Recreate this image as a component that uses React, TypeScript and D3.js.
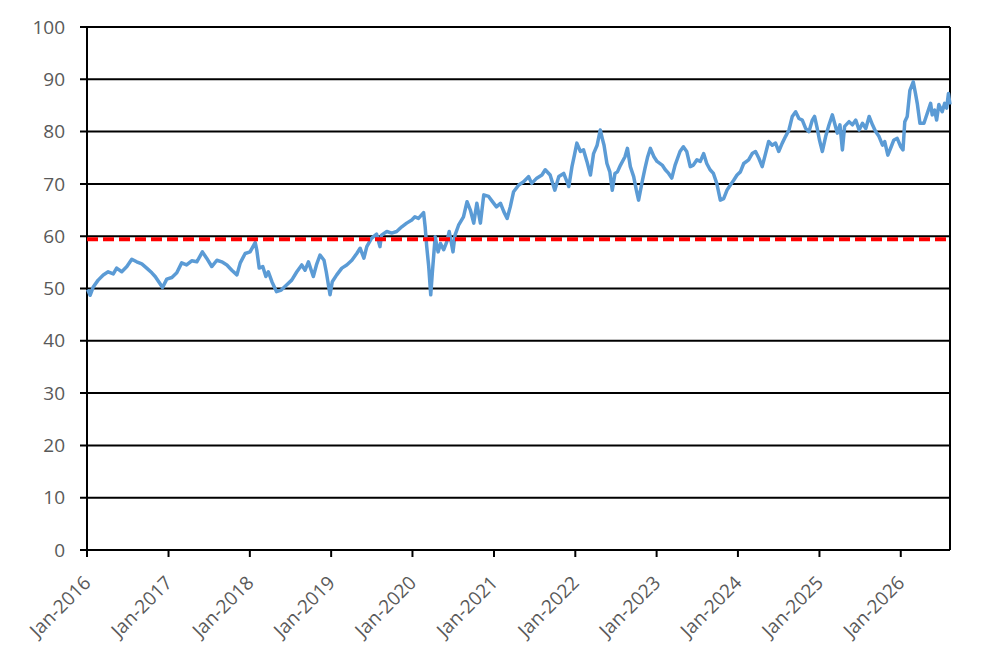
import React, { useEffect, useRef } from 'react';
import * as d3 from 'd3';

// Series (roughly every two to three weeks)
const dates: string[] = [
  '2016-01-04', '2016-01-15', '2016-01-29', '2016-02-20', '2016-03-14', '2016-04-05', '2016-04-28', '2016-05-13',
  '2016-06-05', '2016-06-28', '2016-07-20', '2016-08-11', '2016-09-03', '2016-09-25', '2016-10-18', '2016-11-02',
  '2016-11-24', '2016-12-05', '2016-12-24', '2017-01-16', '2017-02-07', '2017-03-01', '2017-03-23', '2017-04-15',
  '2017-05-08', '2017-06-02', '2017-06-21', '2017-07-14', '2017-08-06', '2017-08-28', '2017-09-20', '2017-10-12',
  '2017-11-04', '2017-11-19', '2017-12-11', '2018-01-02', '2018-01-25', '2018-02-01', '2018-02-12', '2018-02-28',
  '2018-03-14', '2018-03-25', '2018-04-10', '2018-05-01', '2018-05-22', '2018-06-16', '2018-07-08', '2018-07-31',
  '2018-08-22', '2018-09-06', '2018-09-21', '2018-10-13', '2018-10-27', '2018-11-12', '2018-11-30', '2018-12-10',
  '2018-12-27', '2019-01-06', '2019-01-26', '2019-02-18', '2019-03-12', '2019-04-04', '2019-04-26', '2019-05-11',
  '2019-05-28', '2019-06-10', '2019-07-01', '2019-07-24', '2019-08-08', '2019-08-15', '2019-09-08', '2019-09-30',
  '2019-10-22', '2019-11-14', '2019-12-06', '2019-12-29', '2020-01-12', '2020-01-28', '2020-02-20', '2020-02-27',
  '2020-03-05', '2020-03-14', '2020-03-23', '2020-03-30', '2020-04-12', '2020-04-25', '2020-05-06', '2020-05-20',
  '2020-06-03', '2020-06-14', '2020-07-01', '2020-07-10', '2020-07-26', '2020-08-17', '2020-09-02', '2020-09-17',
  '2020-10-02', '2020-10-16', '2020-11-01', '2020-11-16', '2020-12-08', '2020-12-20', '2021-01-12', '2021-01-30',
  '2021-02-14', '2021-03-01', '2021-03-15', '2021-03-30', '2021-04-22', '2021-05-14', '2021-06-05', '2021-06-19',
  '2021-07-12', '2021-08-04', '2021-08-19', '2021-09-10', '2021-10-01', '2021-10-19', '2021-11-10', '2021-12-03',
  '2021-12-17', '2021-12-28', '2022-01-08', '2022-01-24', '2022-02-07', '2022-02-22', '2022-03-10', '2022-03-24',
  '2022-04-09', '2022-04-23', '2022-05-02', '2022-05-10', '2022-05-23', '2022-06-05', '2022-06-16', '2022-06-28',
  '2022-07-09', '2022-07-23', '2022-08-12', '2022-08-23', '2022-09-05', '2022-09-20', '2022-10-02', '2022-10-12',
  '2022-10-28', '2022-11-10', '2022-11-22', '2022-12-04', '2022-12-20', '2023-01-03', '2023-01-26', '2023-02-09',
  '2023-02-24', '2023-03-10', '2023-03-25', '2023-04-16', '2023-05-01', '2023-05-16', '2023-06-01', '2023-06-15',
  '2023-07-01', '2023-07-16', '2023-07-31', '2023-08-14', '2023-08-29', '2023-09-13', '2023-09-28', '2023-10-14',
  '2023-10-29', '2023-11-13', '2023-11-28', '2023-12-13', '2023-12-28', '2024-01-12', '2024-01-27', '2024-02-18',
  '2024-03-05', '2024-03-20', '2024-04-04', '2024-04-19', '2024-05-04', '2024-05-18', '2024-06-03', '2024-06-18',
  '2024-07-02', '2024-07-18', '2024-08-02', '2024-08-17', '2024-09-01', '2024-09-16', '2024-10-01', '2024-10-16',
  '2024-10-31', '2024-11-15', '2024-11-30', '2024-12-10', '2024-12-22', '2025-01-01', '2025-01-14', '2025-01-29',
  '2025-02-13', '2025-02-28', '2025-03-10', '2025-03-22', '2025-04-03', '2025-04-14', '2025-04-24', '2025-05-14',
  '2025-05-29', '2025-06-13', '2025-06-28', '2025-07-13', '2025-07-28', '2025-08-12', '2025-08-27', '2025-09-10',
  '2025-09-25', '2025-10-11', '2025-10-21', '2025-11-04', '2025-11-19', '2025-12-01', '2025-12-16', '2026-01-01',
  '2026-01-11', '2026-01-19', '2026-01-30', '2026-02-11', '2026-02-26', '2026-03-08', '2026-03-16', '2026-03-28',
  '2026-04-15', '2026-04-30', '2026-05-15', '2026-05-22', '2026-06-02', '2026-06-11', '2026-06-21', '2026-07-06',
  '2026-07-17', '2026-07-26', '2026-08-03', '2026-08-10',
];

const values: number[] = [
  49.8, 48.7, 50.3, 51.6, 52.6, 53.2, 52.8, 53.9,
  53.2, 54.2, 55.6, 55.1, 54.7, 53.9, 53.0, 52.3,
  50.9, 50.2, 51.8, 52.1, 53.0, 54.9, 54.5, 55.3,
  55.1, 57.0, 55.8, 54.2, 55.4, 55.1, 54.5, 53.5,
  52.6, 54.9, 56.7, 57.0, 58.8, 57.4, 53.9, 54.2,
  52.3, 53.2, 51.3, 49.4, 49.7, 50.7, 51.6, 53.2,
  54.5, 53.5, 55.1, 52.3, 54.5, 56.4, 55.4, 53.2,
  48.8, 51.3, 52.6, 53.9, 54.5, 55.4, 56.7, 57.7,
  55.8, 58.0, 59.6, 60.4, 58.0, 60.2, 60.9, 60.6,
  60.9, 61.8, 62.5, 63.1, 63.7, 63.4, 64.5, 61.8,
  58.0, 54.2, 48.8, 52.9, 59.9, 57.0, 58.6, 57.4,
  58.9, 60.9, 57.0, 60.2, 62.1, 63.7, 66.6, 65.0,
  62.5, 66.3, 62.5, 67.9, 67.6, 66.9, 65.6, 66.3,
  64.7, 63.4, 65.6, 68.5, 69.8, 70.4, 71.4, 70.1,
  71.1, 71.7, 72.7, 71.7, 68.8, 71.4, 72.0, 69.5,
  73.3, 75.5, 77.8, 76.2, 76.5, 74.3, 71.7, 75.8,
  77.4, 80.3, 78.7, 77.4, 73.9, 72.3, 68.8, 72.0,
  72.3, 73.6, 75.2, 76.8, 73.3, 71.4, 68.8, 66.9,
  70.4, 73.0, 75.2, 76.8, 75.2, 74.3, 73.6, 72.7,
  72.0, 71.1, 73.6, 76.2, 77.1, 76.2, 73.3, 73.6,
  74.6, 74.3, 75.8, 73.9, 72.7, 72.0, 70.1, 66.9,
  67.2, 68.8, 69.8, 70.7, 71.7, 72.3, 73.9, 74.6,
  75.8, 76.2, 74.9, 73.3, 75.8, 78.1, 77.4, 77.8,
  76.2, 77.8, 79.1, 80.3, 82.9, 83.8, 82.5, 82.2,
  80.6, 80.0, 82.2, 82.9, 80.6, 78.4, 76.2, 79.1,
  81.3, 83.2, 81.6, 79.7, 81.3, 76.5, 81.0, 81.9,
  81.3, 82.2, 80.3, 81.6, 80.6, 82.9, 81.3, 80.0,
  79.1, 77.4, 78.1, 75.5, 77.1, 78.4, 78.7, 77.1,
  76.5, 81.9, 82.9, 87.9, 89.5, 87.3, 85.4, 81.6,
  81.6, 83.5, 85.4, 83.2, 84.1, 82.2, 85.2, 83.8,
  85.4, 84.5, 87.3, 85.2,
];

const yTicks: number[] = [0, 10, 20, 30, 40, 50, 60, 70, 80, 90, 100];
const thresholdValue = 59.4;
const axisStart = '2016-01-01';

const App = () => {
  const svgRef = useRef<SVGSVGElement>(null);

  useEffect(() => {
    if (!svgRef.current) return;

    const width = 998;
    const height = 662;
    const margin = { top: 27, right: 48, bottom: 112, left: 87 };
    const svg = d3.select(svgRef.current);
    svg.selectAll('*').remove();

    const parse = d3.timeParse('%Y-%m-%d');
    const data = dates.map((d, i) => ({ date: parse(d) as Date, value: values[i] }));

    const x = d3.scaleTime()
      .domain([parse(axisStart) as Date, data[data.length - 1].date])
      .range([margin.left, width - margin.right]);

    const y = d3.scaleLinear()
      .domain([0, 100])
      .range([height - margin.bottom, margin.top]);

    const font = '"Open Sans", "Liberation Sans", sans-serif';
    const labelColor = '#595959';

    // Horizontal gridlines (with small outside ticks)
    svg.append('g')
      .selectAll('line')
      .data(yTicks)
      .enter()
      .append('line')
      .attr('x1', margin.left - 7)
      .attr('x2', width - margin.right)
      .attr('y1', d => y(d))
      .attr('y2', d => y(d))
      .attr('stroke', '#000')
      .attr('stroke-width', 2);

    // Y labels
    svg.append('g')
      .selectAll('text')
      .data(yTicks)
      .enter()
      .append('text')
      .attr('x', margin.left - 22)
      .attr('y', d => y(d))
      .attr('dy', '0.35em')
      .attr('text-anchor', 'end')
      .attr('font-family', font)
      .attr('font-size', 19)
      .attr('fill', labelColor)
      .text(d => d);

    // Left axis and right border
    [margin.left, width - margin.right].forEach(px => {
      svg.append('line')
        .attr('x1', px)
        .attr('x2', px)
        .attr('y1', y(100))
        .attr('y2', y(0))
        .attr('stroke', '#000')
        .attr('stroke-width', 2);
    });

    // X ticks + rotated labels
    const xTicks = d3.timeYear.range(x.domain()[0], x.domain()[1]);
    const fmt = d3.timeFormat('%b-%Y');

    svg.append('g')
      .selectAll('line')
      .data(xTicks)
      .enter()
      .append('line')
      .attr('x1', d => x(d))
      .attr('x2', d => x(d))
      .attr('y1', y(0))
      .attr('y2', y(0) + 7)
      .attr('stroke', '#000')
      .attr('stroke-width', 2);

    svg.append('g')
      .selectAll('text')
      .data(xTicks)
      .enter()
      .append('text')
      .attr('transform', d => `translate(${x(d) + 5}, ${y(0) + 34}) rotate(-45)`)
      .attr('text-anchor', 'end')
      .attr('font-family', font)
      .attr('font-size', 19)
      .attr('fill', labelColor)
      .text(d => fmt(d));

    // Series line
    const line = d3.line<{ date: Date; value: number }>()
      .x(d => x(d.date))
      .y(d => y(d.value));

    svg.append('path')
      .datum(data)
      .attr('d', line)
      .attr('fill', 'none')
      .attr('stroke', '#5B9BD5')
      .attr('stroke-width', 3.5)
      .attr('stroke-linejoin', 'round');

    // Threshold (red dashed)
    svg.append('line')
      .attr('x1', x.range()[0])
      .attr('x2', x.range()[1])
      .attr('y1', y(thresholdValue))
      .attr('y2', y(thresholdValue))
      .attr('stroke', '#FF0000')
      .attr('stroke-width', 4)
      .attr('stroke-dasharray', '11 5');
  }, []);

  return (
    <svg
      ref={svgRef}
      width={998}
      height={662}
      style={{ position: 'absolute', left: 0, top: 0, display: 'block', background: '#fff' }}
    />
  );
};

export default App;
